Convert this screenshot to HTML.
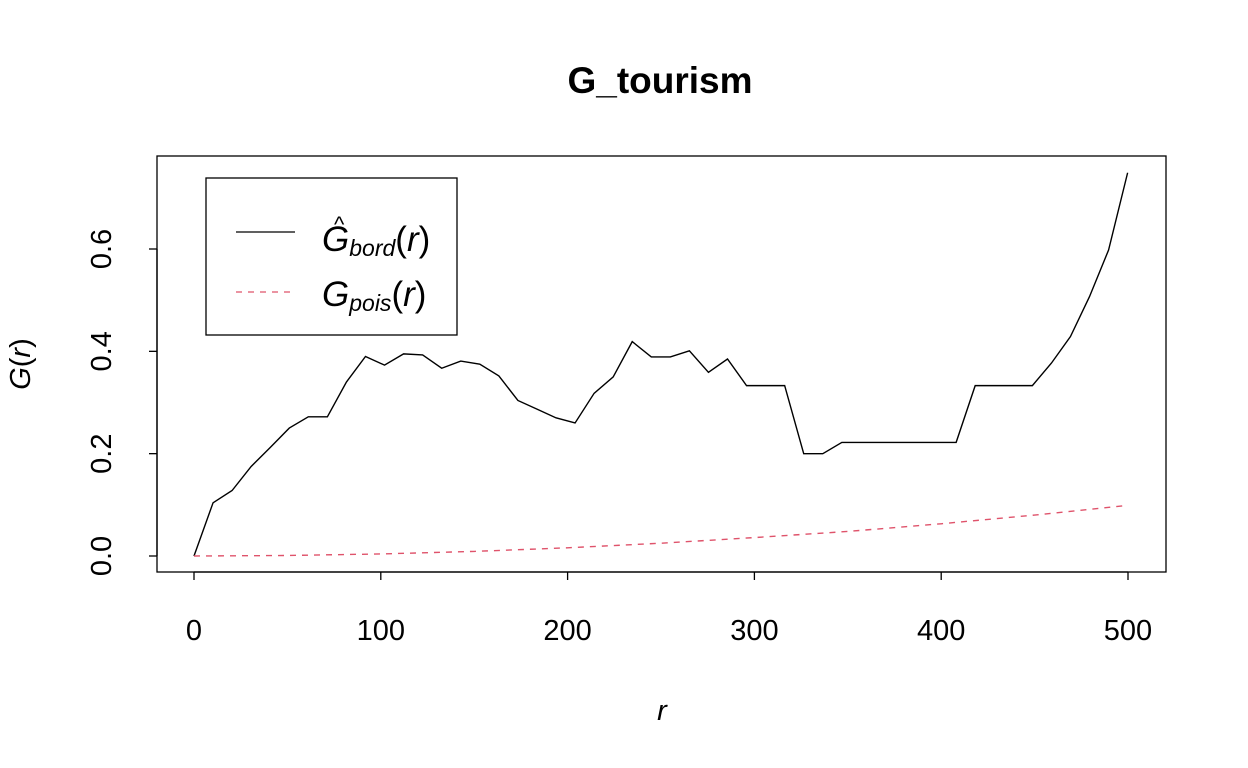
<!DOCTYPE html>
<html><head><meta charset="utf-8"><style>
html,body{margin:0;padding:0;background:#fff;}
svg{display:block;font-family:"Liberation Sans",Arial,sans-serif;}
</style></head><body>
<svg id="chart" width="1248" height="768" viewBox="0 0 1248 768">
<text x="660" y="93" text-anchor="middle" font-size="37" font-weight="bold">G_tourism</text>
<rect x="157" y="156" width="1009" height="416" fill="none" stroke="#000" stroke-width="1.3"/>
<g id="xaxis"></g>
<g id="yaxis"></g>
<text x="662" y="720" text-anchor="middle" font-size="29" font-style="italic">r</text>
<text transform="translate(30,364) rotate(-90)" text-anchor="middle" font-size="29"><tspan font-style="italic">G</tspan>(<tspan font-style="italic">r</tspan>)</text>
<g id="series"></g>
<g>
<rect x="206" y="178" width="251" height="157" fill="#fff" stroke="#000" stroke-width="1.3"/>
<line x1="236" y1="232" x2="295" y2="232" stroke="#000" stroke-width="1.3"/>
<text x="322" y="251" font-size="35"><tspan font-style="italic">G</tspan><tspan font-size="23" font-style="italic" dy="5">bord</tspan><tspan dy="-5">(</tspan><tspan font-style="italic">r</tspan>)</text>
<text x="334" y="232" font-size="22">^</text>
<line x1="236" y1="292" x2="295" y2="292" stroke="#DF536B" stroke-width="1.3" stroke-dasharray="6,6"/>
<text x="322" y="306" font-size="35"><tspan font-style="italic">G</tspan><tspan font-size="23" font-style="italic" dy="5">pois</tspan><tspan dy="-5">(</tspan><tspan font-style="italic">r</tspan>)</text>
</g>
</svg>
<script>
const xTicks = [0, 100, 200, 300, 400, 500];
const yTicks = [0.0, 0.2, 0.4, 0.6];
const yTickLabels = ["0.0", "0.2", "0.4", "0.6"];
const bordR = [0,10.2,20.4,30.6,40.8,51,61.2,71.4,81.6,91.8,102,112.2,122.4,132.6,142.8,153,163.2,173.4,183.6,193.8,204,214.2,224.4,234.6,244.8,255,265.2,275.4,285.6,295.8,306,316.2,326.4,336.6,346.8,357,367.2,377.4,387.6,397.8,408,418.2,428.4,438.6,448.8,459,469.2,479.4,489.6,499.8];
const bordG = [0,0.104,0.128,0.175,0.212,0.25,0.272,0.272,0.34,0.39,0.373,0.395,0.393,0.367,0.381,0.375,0.352,0.304,0.287,0.27,0.26,0.318,0.35,0.419,0.389,0.389,0.401,0.359,0.385,0.333,0.333,0.333,0.2,0.2,0.222,0.222,0.222,0.222,0.222,0.222,0.222,0.333,0.333,0.333,0.333,0.377,0.429,0.507,0.598,0.749];
const poisR = [0,50,100,150,200,250,300,350,400,450,500];
const poisG = [0,0.001,0.004,0.009,0.016,0.025,0.036,0.048,0.063,0.08,0.099];
const NS = "http://www.w3.org/2000/svg";
function xs(v){ return 194 + v * (1128 - 194) / 500; }
function ys(v){ return 556 - v * (556 - 249) / 0.6; }
function mk(tag, attrs, parent){ const e = document.createElementNS(NS, tag); for (const k in attrs) e.setAttribute(k, attrs[k]); parent.appendChild(e); return e; }
const xa = document.getElementById('xaxis');
const l0 = mk('line', {x1: xs(xTicks[0]), x2: xs(xTicks[xTicks.length-1]), y1: 572, y2: 572, stroke: '#000', 'stroke-width': 1.3}, xa);


xTicks.forEach(t => {
  const tk = mk('line', {x1: xs(t), x2: xs(t), y1: 572, y2: 580, stroke: '#000', 'stroke-width': 1.3}, xa);
  
  
  const tx = mk('text', {x: xs(t), y: 640, 'text-anchor': 'middle', 'font-size': 29}, xa);
  tx.textContent = String(t);
  
  
});
const ya = document.getElementById('yaxis');
const l1 = mk('line', {x1: 157, x2: 157, y1: ys(yTicks[0]), y2: ys(yTicks[yTicks.length-1]), stroke: '#000', 'stroke-width': 1.3}, ya);


yTicks.forEach((t, i) => {
  const tk = mk('line', {x1: 149, x2: 157, y1: ys(t), y2: ys(t), stroke: '#000', 'stroke-width': 1.3}, ya);
  
  
  const tx = mk('text', {transform: 'translate(111,' + ys(t) + ') rotate(-90)', 'text-anchor': 'middle', 'font-size': 29}, ya);
  tx.textContent = yTickLabels[i];
  
  
});
const sg = document.getElementById('series');
const pb = mk('polyline', {points: bordR.map((r, i) => xs(r) + ',' + ys(bordG[i])).join(' '), fill: 'none', stroke: '#000', 'stroke-width': 1.4}, sg);


const pp = mk('polyline', {points: poisR.map((r, i) => xs(r) + ',' + ys(poisG[i])).join(' '), fill: 'none', stroke: '#DF536B', 'stroke-width': 1.4, 'stroke-dasharray': '6,6'}, sg);


</script>
</body></html>
